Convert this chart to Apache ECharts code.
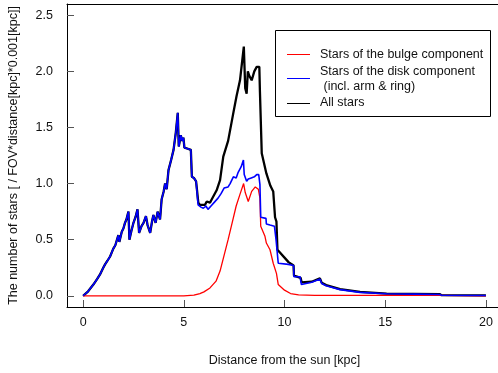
<!DOCTYPE html>
<html>
<head>
<meta charset="utf-8">
<script src="https://cdn.jsdelivr.net/npm/echarts@6/dist/echarts.min.js"></script>
<style>html,body{margin:0;padding:0;background:#fff;}#c{width:498px;height:373px;}</style>
</head>
<body>
<div id="c"></div>
<script>
// ---- data ----
const xTicks = [0, 5, 10, 15, 20];
const yTicks = [0, 0.5, 1.0, 1.5, 2.0, 2.5];

const bulgeX = [0, 5.0, 5.5, 5.8, 6.0, 6.3, 6.6, 6.8, 7.0, 7.2, 7.4, 7.6, 7.8, 7.97, 8.05, 8.2, 8.37, 8.55, 8.7, 8.78, 8.82, 9.03, 9.1, 9.28, 9.44, 9.6, 9.69, 10.0, 10.3, 10.7, 11.5, 17.6, 20];
const bulgeY = [0, 0, 0.005, 0.02, 0.035, 0.07, 0.13, 0.22, 0.36, 0.50, 0.65, 0.80, 0.91, 1.00, 0.92, 0.84, 0.93, 0.97, 0.95, 0.87, 0.62, 0.53, 0.47, 0.41, 0.29, 0.20, 0.10, 0.05, 0.02, 0.008, 0.004, 0.003, 0.0];

const diskX = [0, 0.25, 0.51, 0.7, 0.84, 1.0, 1.09, 1.2, 1.34, 1.5, 1.6, 1.75, 1.8, 1.92, 2.0, 2.08, 2.15, 2.25, 2.3, 2.4, 2.5, 2.6, 2.7, 2.78, 2.9, 3.0, 3.12, 3.2, 3.33, 3.42, 3.49, 3.6, 3.7, 3.82, 3.9, 4.0, 4.07, 4.15, 4.24, 4.37, 4.49, 4.6, 4.7, 4.75, 4.85, 4.92, 4.98, 5.03, 5.2, 5.35, 5.4, 5.5, 5.61, 5.71, 5.85, 5.97, 6.1, 6.2, 6.35, 6.5, 6.7, 6.85, 7.0, 7.2, 7.3, 7.46, 7.6, 7.7, 7.85, 7.96, 8.0, 8.12, 8.2, 8.35, 8.5, 8.62, 8.72, 8.78, 8.82, 9.08, 9.1, 9.28, 9.5, 9.58, 9.69, 10.19, 10.45, 10.47, 10.77, 10.84, 11.35, 11.76, 11.85, 12.07, 12.76, 13.75, 15.07, 16.5, 17.7, 17.8, 20];
const diskY = [0, 0.04, 0.10, 0.15, 0.19, 0.25, 0.28, 0.31, 0.35, 0.42, 0.45, 0.54, 0.48, 0.57, 0.60, 0.65, 0.68, 0.75, 0.50, 0.58, 0.65, 0.70, 0.77, 0.56, 0.62, 0.65, 0.71, 0.63, 0.56, 0.66, 0.72, 0.65, 0.75, 0.68, 0.86, 0.93, 1.00, 0.95, 1.12, 1.21, 1.30, 1.45, 1.63, 1.33, 1.43, 1.38, 1.41, 1.32, 1.31, 1.30, 1.06, 1.05, 1.02, 0.81, 0.79, 0.78, 0.80, 0.77, 0.80, 0.83, 0.87, 0.91, 0.96, 0.97, 1.00, 1.06, 1.05, 1.10, 1.15, 1.21, 1.08, 1.02, 1.04, 1.05, 1.06, 1.08, 1.08, 0.99, 0.70, 0.69, 0.64, 0.63, 0.62, 0.50, 0.29, 0.28, 0.27, 0.17, 0.17, 0.10, 0.12, 0.15, 0.11, 0.09, 0.055, 0.03, 0.018, 0.015, 0.012, 0.005, 0.003];

const allX = [0, 0.25, 0.51, 0.7, 0.84, 1.0, 1.09, 1.2, 1.34, 1.5, 1.6, 1.75, 1.8, 1.92, 2.0, 2.08, 2.15, 2.25, 2.3, 2.4, 2.5, 2.6, 2.7, 2.78, 2.9, 3.0, 3.12, 3.2, 3.33, 3.42, 3.49, 3.6, 3.7, 3.82, 3.9, 4.0, 4.07, 4.15, 4.24, 4.37, 4.49, 4.6, 4.7, 4.75, 4.85, 4.92, 4.98, 5.03, 5.2, 5.35, 5.4, 5.5, 5.61, 5.72, 5.8, 6.05, 6.14, 6.3, 6.39, 6.47, 6.63, 6.8, 6.96, 7.2, 7.46, 7.62, 7.79, 7.98, 8.05, 8.12, 8.18, 8.25, 8.37, 8.5, 8.62, 8.75, 8.78, 8.87, 9.1, 9.3, 9.44, 9.53, 9.6, 9.65, 10.1, 10.2, 10.45, 10.47, 10.8, 10.85, 11.35, 11.76, 11.85, 12.07, 12.76, 13.75, 15.07, 17.7, 17.8, 20];
const allY = [0, 0.04, 0.10, 0.15, 0.19, 0.25, 0.28, 0.31, 0.35, 0.42, 0.45, 0.54, 0.48, 0.57, 0.60, 0.65, 0.68, 0.75, 0.50, 0.58, 0.65, 0.70, 0.77, 0.56, 0.62, 0.65, 0.71, 0.63, 0.56, 0.66, 0.72, 0.65, 0.75, 0.68, 0.86, 0.93, 1.00, 0.95, 1.12, 1.21, 1.30, 1.45, 1.63, 1.33, 1.43, 1.38, 1.41, 1.32, 1.31, 1.30, 1.06, 1.05, 1.02, 0.83, 0.81, 0.81, 0.84, 0.83, 0.86, 0.87, 0.94, 1.03, 1.24, 1.38, 1.63, 1.78, 1.92, 2.22, 1.85, 1.80, 2.00, 1.96, 1.92, 2.00, 2.04, 2.04, 1.82, 1.27, 1.09, 0.98, 0.93, 0.70, 0.66, 0.41, 0.32, 0.30, 0.27, 0.18, 0.16, 0.12, 0.125, 0.155, 0.115, 0.095, 0.06, 0.035, 0.02, 0.015, 0.005, 0.003];

const seriesNames = ['Stars of the bulge component', 'Stars of the disk component', ' (incl. arm & ring)', 'All stars'];

// ---- chart ----
const pairs = (xs, ys) => xs.map((x, i) => [x, ys[i]]);
const FONT = 'Liberation Sans, Arial, sans-serif';
const chart = echarts.init(document.getElementById('c'), null, {renderer: 'canvas'});
chart.setOption({
  animation: false,
  backgroundColor: '#fff',
  grid: {left: 67, top: 4, width: 435, height: 303, containLabel: false, outerBoundsMode: 'none'},
  xAxis: [{
    type: 'value', min: -0.8, max: 20.8, gridIndex: 0, position: 'bottom',
    axisLine: {show: true, onZero: false, lineStyle: {color: '#000', width: 1}},
    axisTick: {show: true, inside: true, length: 7, customValues: xTicks, lineStyle: {color: '#555'}},
    axisLabel: {customValues: xTicks, margin: 9, fontSize: 12.5, color: '#111', fontFamily: FONT},
    splitLine: {show: false},
    name: 'Distance from the sun [kpc]', nameLocation: 'middle', nameGap: 47,
    nameTextStyle: {fontSize: 12.5, color: '#111', fontFamily: FONT}
  }, {
    type: 'value', min: -0.8, max: 20.8, gridIndex: 0, position: 'top',
    axisLine: {show: true, onZero: false, lineStyle: {color: '#000', width: 1}},
    axisTick: {show: false}, axisLabel: {show: false}, splitLine: {show: false}
  }],
  yAxis: {
    type: 'value', min: -0.1, max: 2.6, position: 'left',
    axisLine: {show: true, onZero: false, lineStyle: {color: '#000', width: 1}},
    axisTick: {show: true, inside: true, length: 7, customValues: yTicks, lineStyle: {color: '#555'}},
    axisLabel: {customValues: yTicks, margin: 14, fontSize: 12.5, color: '#111', fontFamily: FONT,
                formatter: v => v.toFixed(1)},
    splitLine: {show: false},
    name: 'The number of stars [ / FOV*distance[kpc]*0.001[kpc]]', nameLocation: 'middle', nameGap: 47,
    nameTextStyle: {fontSize: 12.5, color: '#111', fontFamily: FONT}
  },
  series: [
    {name: seriesNames[3], type: 'line', data: pairs(allX, allY), showSymbol: false, lineStyle: {color: '#000', width: 2.3}, z: 2},
    {name: seriesNames[0], type: 'line', data: pairs(bulgeX, bulgeY), showSymbol: false, lineStyle: {color: '#ff0000', width: 1.3}, z: 3},
    {name: seriesNames[1], type: 'line', data: pairs(diskX, diskY), showSymbol: false, lineStyle: {color: '#0000ff', width: 1.6}, z: 4}
  ],
  graphic: [
    {type: 'rect', shape: {x: 275.5, y: 30.5, width: 215, height: 86}, style: {fill: '#fff', stroke: '#000', lineWidth: 1}, z: 10},
    {type: 'line', shape: {x1: 287, y1: 54.5, x2: 310, y2: 54.5}, style: {stroke: '#ff0000', lineWidth: 1}, z: 11},
    {type: 'line', shape: {x1: 287, y1: 78.5, x2: 310, y2: 78.5}, style: {stroke: '#0000ff', lineWidth: 1}, z: 11},
    {type: 'line', shape: {x1: 287, y1: 103.5, x2: 310, y2: 103.5}, style: {stroke: '#000', lineWidth: 1}, z: 11},
    {type: 'text', x: 320, y: 55, style: {text: seriesNames[0], fontSize: 12.5, fill: '#111', font: '12.5px ' + FONT, verticalAlign: 'middle'}, z: 11},
    {type: 'text', x: 320, y: 71.5, style: {text: seriesNames[1], fontSize: 12.5, fill: '#111', font: '12.5px ' + FONT, verticalAlign: 'middle'}, z: 11},
    {type: 'text', x: 320, y: 87, style: {text: seriesNames[2], fontSize: 12.5, fill: '#111', font: '12.5px ' + FONT, verticalAlign: 'middle'}, z: 11},
    {type: 'text', x: 320, y: 103, style: {text: seriesNames[3], fontSize: 12.5, fill: '#111', font: '12.5px ' + FONT, verticalAlign: 'middle'}, z: 11}
  ]
});
</script>
</body>
</html>
